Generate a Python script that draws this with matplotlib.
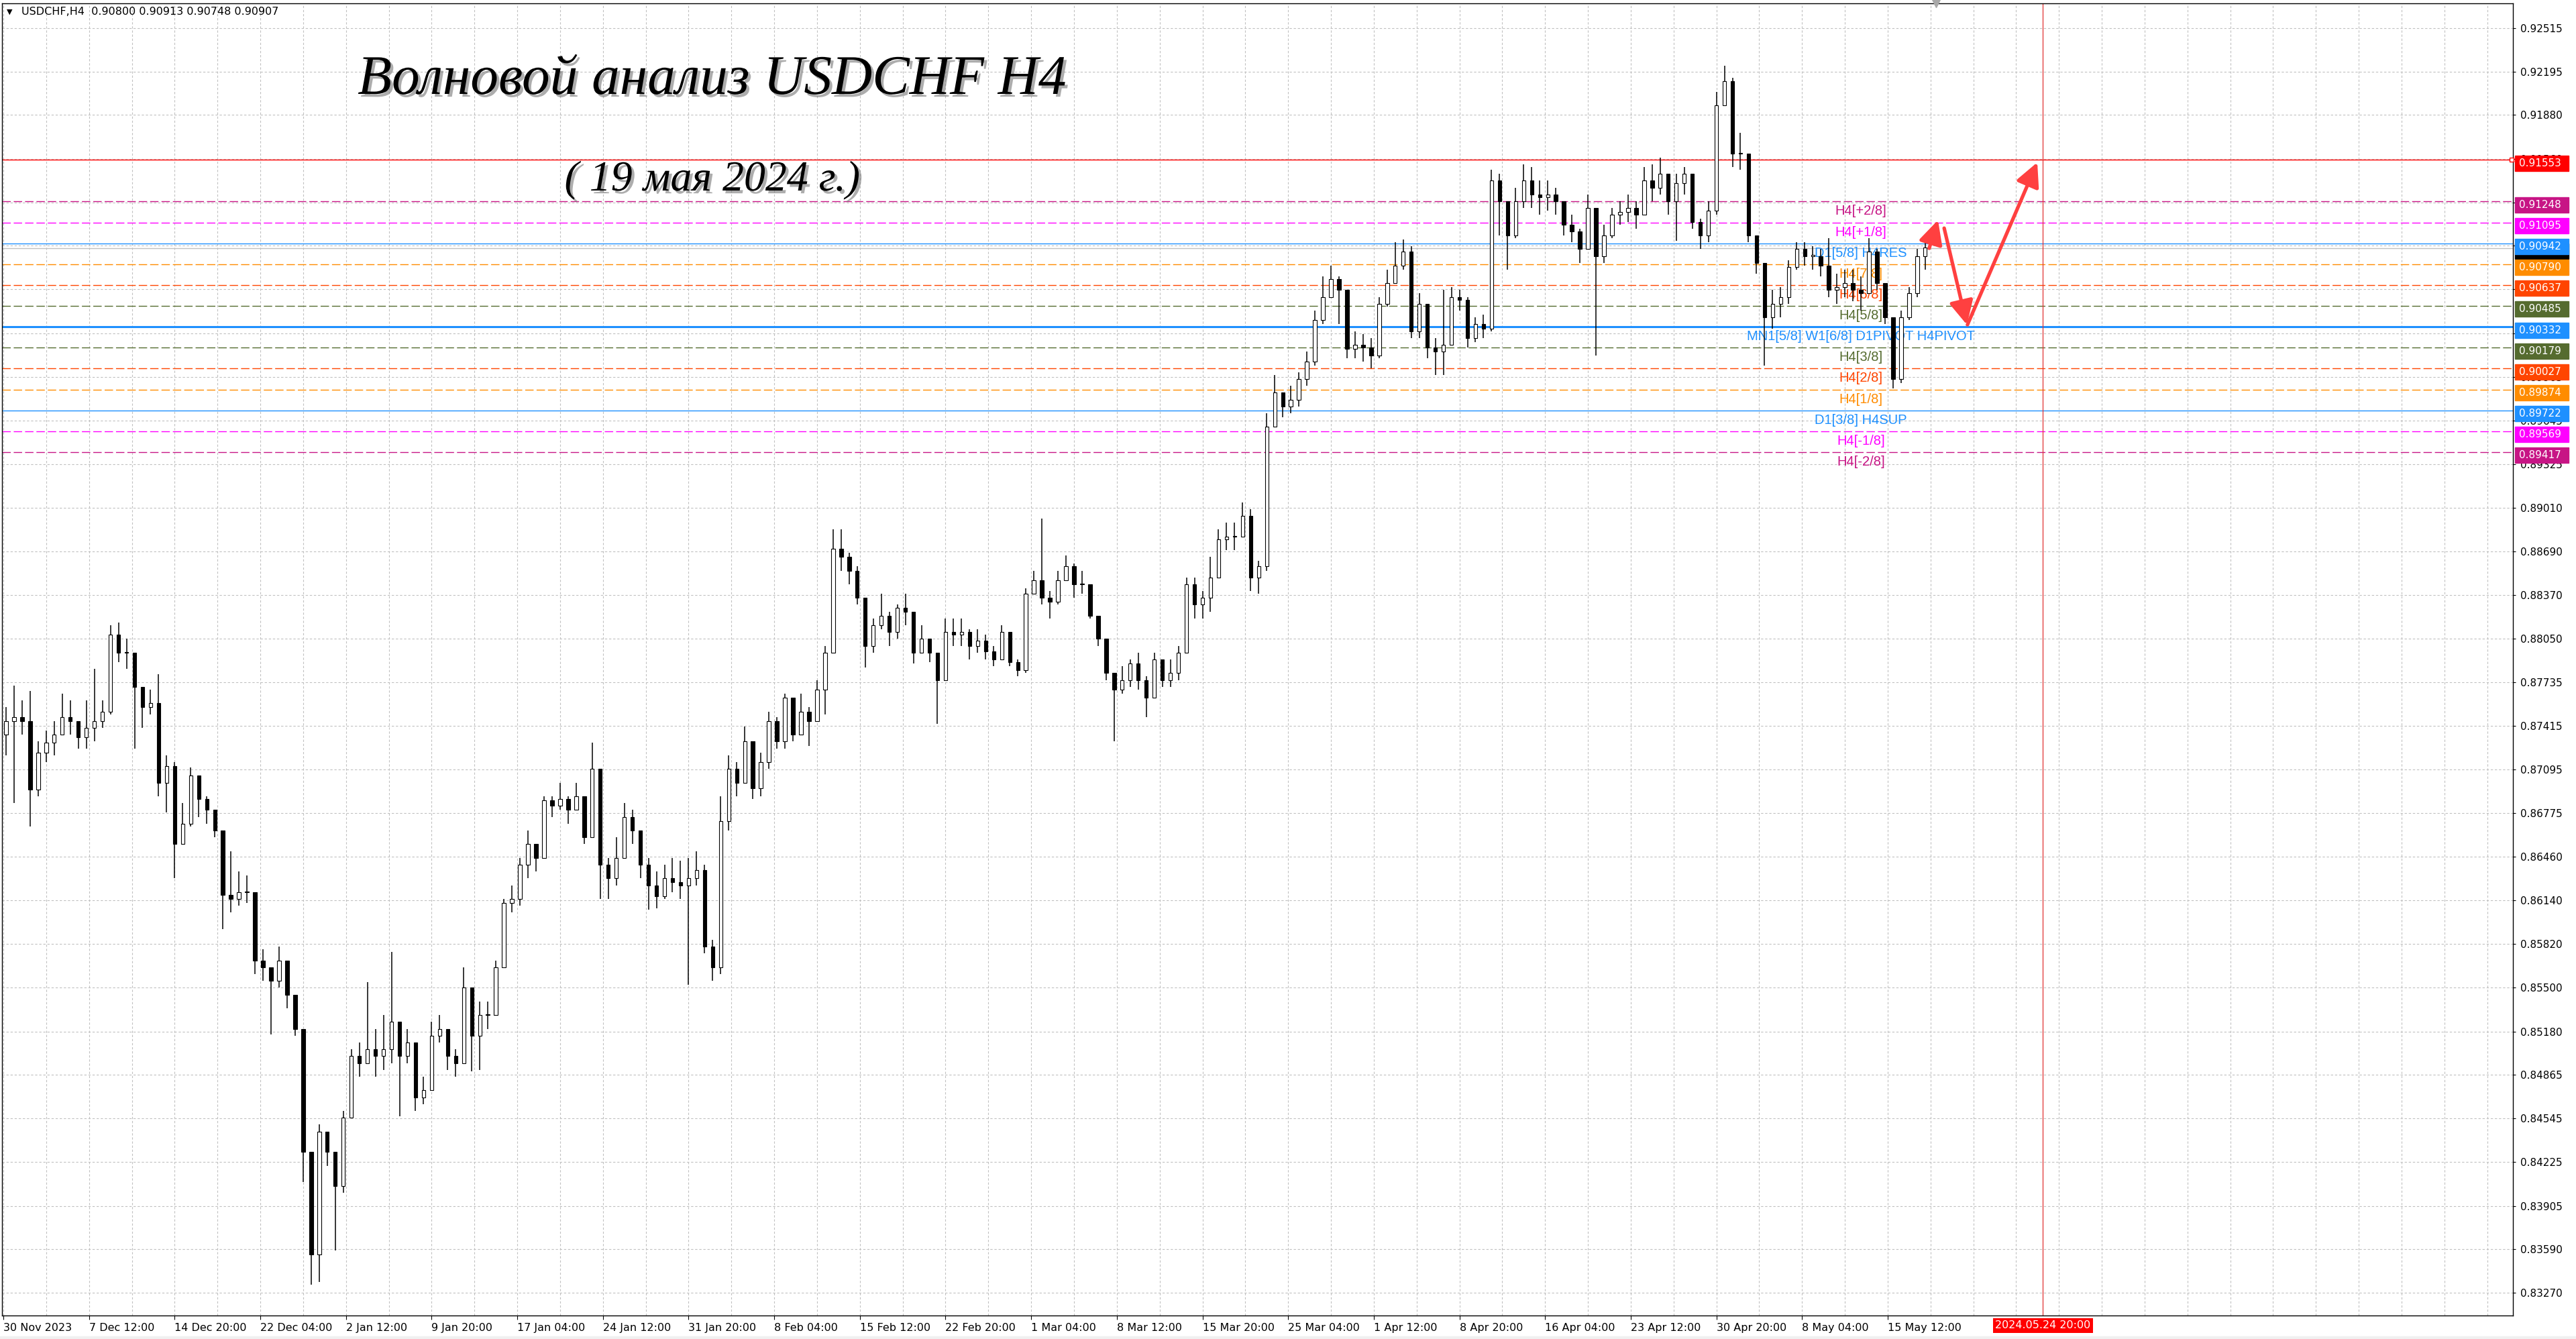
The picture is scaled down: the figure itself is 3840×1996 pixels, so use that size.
import matplotlib
matplotlib.use('Agg')
import matplotlib.pyplot as plt
import matplotlib.patheffects as pe
import matplotlib.transforms as mtransforms
from matplotlib.patches import Rectangle
import numpy as np

plt.rcParams['font.family'] = ['DejaVu Sans']

# --- price data (one candle = 3 H4 bars), in 1e-4 units ---
close_pips = [
    8745, 8748, 8745, 8695, 8722, 8729, 8735, 8748, 8745, 8733,
    8740, 8745, 8752, 8808, 8795, 8795, 8770, 8755, 8758, 8700,
    8712, 8655, 8670, 8705, 8688, 8680, 8665, 8618, 8615, 8620,
    8620, 8570, 8565, 8555, 8570, 8545, 8520, 8430, 8355, 8445,
    8430, 8405, 8455, 8500, 8495, 8505, 8500, 8505, 8525, 8500,
    8510, 8470, 8475, 8515, 8520, 8500, 8495, 8550, 8515, 8530,
    8530, 8565, 8612, 8615, 8640, 8655, 8645, 8687, 8683, 8688,
    8680, 8690, 8660, 8710, 8640, 8630, 8645, 8675, 8665, 8640,
    8625, 8617, 8630, 8627, 8625, 8630, 8636, 8580, 8565, 8672,
    8710, 8700, 8730, 8696, 8715, 8745, 8730, 8762, 8735, 8752,
    8745, 8768, 8795, 8871, 8865, 8855, 8835, 8800, 8815, 8822,
    8810, 8828, 8825, 8795, 8805, 8795, 8775, 8810, 8808, 8810,
    8800, 8804, 8796, 8790, 8810, 8788, 8782, 8838, 8848, 8835,
    8832, 8848, 8858, 8845, 8845, 8822, 8805, 8780, 8768, 8775,
    8787, 8775, 8762, 8790, 8775, 8780, 8795, 8845, 8830, 8835,
    8850, 8878, 8880, 8880, 8895, 8850, 8858, 8960, 8985, 8975,
    8980, 8995, 9008, 9038, 9055, 9068, 9060, 9017, 9020, 9018,
    9012, 9050, 9065, 9078, 9088, 9030, 9050, 9018, 9015, 9020,
    9055, 9053, 9025, 9035, 9032, 9140, 9125, 9100, 9125, 9140,
    9130, 9128, 9130, 9125, 9108, 9103, 9090, 9120, 9085, 9100,
    9115, 9117, 9120, 9115, 9140, 9135, 9145, 9125, 9138, 9145,
    9110, 9100, 9118, 9195, 9213, 9160, 9160, 9100, 9080, 9040,
    9050, 9055, 9077, 9090, 9085, 9085, 9078, 9060, 9062, 9065,
    9060, 9058, 9088, 9065, 9040, 8995, 9040, 9058, 9085, 9091,
]
high_pips = [
    8755, 8771, 8760, 8767, 8730, 8738, 8745, 8765, 8760, 8745,
    8760, 8783, 8760, 8815, 8817, 8805, 8785, 8765, 8768, 8779,
    8720, 8715, 8685, 8711, 8705, 8690, 8680, 8665, 8650, 8635,
    8632, 8620, 8578, 8565, 8580, 8560, 8545, 8515, 8420, 8450,
    8445, 8430, 8460, 8505, 8510, 8554, 8520, 8530, 8576, 8520,
    8520, 8500, 8485, 8525, 8530, 8515, 8505, 8565, 8550, 8540,
    8540, 8570, 8615, 8625, 8645, 8665, 8655, 8690, 8690, 8700,
    8690, 8700, 8688, 8729, 8705, 8645, 8660, 8685, 8680, 8660,
    8645, 8635, 8640, 8645, 8643, 8645, 8650, 8640, 8585, 8690,
    8720, 8715, 8741, 8730, 8722, 8752, 8748, 8765, 8762, 8765,
    8755, 8775, 8800, 8885, 8885, 8868, 8858, 8835, 8820, 8838,
    8825, 8830, 8838, 8825, 8815, 8805, 8795, 8820, 8820, 8820,
    8812, 8812, 8808, 8800, 8815, 8808, 8790, 8842, 8855, 8893,
    8840, 8855, 8866, 8860, 8855, 8845, 8822, 8800, 8780, 8785,
    8790, 8795, 8778, 8795, 8790, 8790, 8800, 8850, 8850, 8840,
    8865, 8885, 8890, 8890, 8905, 8900, 8862, 8970, 8998, 8985,
    8990, 9000, 9015, 9045, 9070, 9078, 9070, 9060, 9030, 9028,
    9025, 9055, 9075, 9095, 9097, 9092, 9058, 9050, 9025, 9060,
    9062, 9060, 9055, 9040, 9042, 9148, 9145, 9125, 9135, 9152,
    9150, 9140, 9140, 9135, 9125, 9115, 9105, 9130, 9120, 9108,
    9120, 9125, 9130, 9125, 9150, 9152, 9157, 9145, 9145, 9150,
    9140, 9112, 9125, 9205, 9224, 9215, 9175, 9128, 9100, 9080,
    9060, 9062, 9082, 9095, 9095, 9092, 9090, 9098, 9072, 9075,
    9075, 9070, 9098, 9090, 9065, 9040, 9045, 9062, 9090, 9100,
]
low_pips = [
    8720, 8685, 8735, 8668, 8690, 8715, 8720, 8735, 8735, 8725,
    8725, 8730, 8740, 8750, 8788, 8783, 8725, 8740, 8750, 8690,
    8678, 8630, 8660, 8668, 8675, 8670, 8660, 8593, 8605, 8610,
    8612, 8560, 8555, 8516, 8550, 8535, 8515, 8408, 8333, 8335,
    8420, 8358, 8400, 8455, 8485, 8495, 8485, 8490, 8495, 8456,
    8495, 8460, 8465, 8475, 8510, 8490, 8485, 8495, 8489, 8490,
    8520, 8530, 8565, 8605, 8610, 8630, 8635, 8645, 8675, 8680,
    8670, 8680, 8655, 8660, 8615, 8615, 8625, 8645, 8655, 8630,
    8607, 8608, 8615, 8620, 8615, 8552, 8625, 8575, 8555, 8560,
    8665, 8690, 8700, 8688, 8690, 8710, 8725, 8725, 8730, 8740,
    8727, 8750, 8750, 8800, 8855, 8845, 8830, 8784, 8795, 8812,
    8800, 8805, 8815, 8787, 8798, 8788, 8743, 8775, 8800, 8800,
    8790, 8795, 8790, 8785, 8790, 8785, 8778, 8780, 8838, 8830,
    8820, 8830, 8848, 8835, 8838, 8820, 8800, 8775, 8730, 8765,
    8770, 8768, 8748, 8762, 8770, 8770, 8775, 8795, 8820, 8820,
    8825, 8865, 8870, 8870, 8880, 8840, 8838, 8855, 8970, 8967,
    8970, 8975, 8990, 9005, 9035, 9055, 9035, 9010, 9010, 9008,
    9003, 9010, 9048, 9070, 9075, 9025, 9025, 9010, 8998, 8998,
    9025, 9045, 9018, 9022, 9025, 9030, 9100, 9075, 9098, 9120,
    9120, 9115, 9118, 9115, 9100, 9095, 9080, 9090, 9012, 9080,
    9098, 9108, 9110, 9105, 9115, 9125, 9130, 9115, 9096, 9130,
    9105, 9090, 9095, 9115, 9195, 9150, 9148, 9095, 9072, 9005,
    9032, 9040, 9050, 9075, 9078, 9075, 9070, 9055, 9050, 9055,
    9052, 9045, 9060, 9060, 9035, 8988, 8992, 9038, 9055, 9075,
]
first_open = 0.8735
bars_per_candle = 3

time_labels = ['30 Nov 2023', '7 Dec 12:00', '14 Dec 20:00', '22 Dec 04:00', '2 Jan 12:00',
               '9 Jan 20:00', '17 Jan 04:00', '24 Jan 12:00', '31 Jan 20:00', '8 Feb 04:00',
               '15 Feb 12:00', '22 Feb 20:00', '1 Mar 04:00', '8 Mar 12:00', '15 Mar 20:00',
               '25 Mar 04:00', '1 Apr 12:00', '8 Apr 20:00', '16 Apr 04:00', '23 Apr 12:00',
               '30 Apr 20:00', '8 May 04:00', '15 May 12:00']
label_step = 32  # bars between time labels

price_ticks = [0.92515, 0.92195, 0.91880, 0.91560, 0.91240, 0.90925, 0.90605, 0.90285,
               0.89965, 0.89645, 0.89325, 0.89010, 0.88690, 0.88370, 0.88050, 0.87735,
               0.87415, 0.87095, 0.86775, 0.86460, 0.86140, 0.85820, 0.85500, 0.85180,
               0.84865, 0.84545, 0.84225, 0.83905, 0.83590, 0.83270]

level_prices = [0.91553, 0.91248, 0.91095, 0.90942, 0.90790, 0.90637, 0.90485,
                0.90332, 0.90179, 0.90027, 0.89874, 0.89722, 0.89569, 0.89417]
level_names = ['', 'H4[+2/8]', 'H4[+1/8]', 'D1[5/8] H4RES', 'H4[7/8]', 'H4[6/8]', 'H4[5/8]',
               'MN1[5/8] W1[6/8] D1PIVOT H4PIVOT', 'H4[3/8]', 'H4[2/8]', 'H4[1/8]',
               'D1[3/8] H4SUP', 'H4[-1/8]', 'H4[-2/8]']
level_colors = ['#FF0000', '#C71585', '#FF00FF', '#1E90FF', '#FF8C00', '#FF4500', '#556B2F',
                '#1E90FF', '#556B2F', '#FF4500', '#FF8C00', '#1E90FF', '#FF00FF', '#C71585']
level_dashed = [False, True, True, False, True, True, True,
                False, True, True, True, False, True, True]
level_widths = [1.0, 1.0, 1.0, 1.0, 1.0, 1.0, 1.0, 2.2, 1.0, 1.0, 1.0, 1.0, 1.0, 1.0]

bid_price = 0.90907
header = 'USDCHF,H4  0.90800 0.90913 0.90748 0.90907'

forecast_bars = [719.5, 722.8, 725.1, 733.6, 733.8, 759.9]
forecast_prices = [0.90906, 0.91112, 0.91053, 0.90347, 0.90347, 0.91534]

future_bar = 762
future_label = '2024.05.24 20:00'
label_bar = 694

title = 'Волновой анализ USDCHF H4'
subtitle = '( 19 мая 2024 г.)'

# --- figure ---
W, H = 3840, 1996
fig = plt.figure(figsize=(W / 100, H / 100), dpi=100)
left, right, top, bottom = 3, 3746, 5, 1961
ax = fig.add_axes([left / W, 1 - bottom / H, (right - left) / W, (bottom - top) / H])
x0, x1 = -0.5, 937.6
y0, y1 = 0.83104, 0.926965
ax.set_xlim(x0, x1)
ax.set_ylim(y0, y1)
for s in ax.spines.values():
    s.set_color('black')
    s.set_linewidth(1.0)
px = (y1 - y0) / (bottom - top)  # price per pixel

# grid
grid_kw = dict(color='#C0C0C0', lw=0.8, ls=(0, (3, 2.5)), zorder=0)
for b in range(0, int(x1), 16):
    ax.axvline(b, **grid_kw)
for p in price_ticks:
    ax.axhline(p, **grid_kw)

# levels
for p, c, d, w in zip(level_prices, level_colors, level_dashed, level_widths):
    ls = (0, (9, 3.2)) if d else '-'
    ax.axhline(p, color=c, lw=w, ls=ls, zorder=1)
ax.axhline(bid_price, color='#C0C0C0', lw=1.0, zorder=1)
ax.axvline(future_bar, color='#E03030', lw=0.9, zorder=1)

for p, n, c in zip(level_prices, level_names, level_colors):
    if n:
        ax.text(label_bar, p - 5 * px, n, color=c, ha='center', va='top',
                fontsize=14.5, family='Liberation Sans', zorder=2)

# candles
close = np.array(close_pips) / 10000
high = np.array(high_pips) / 10000
low = np.array(low_pips) / 10000
opn = np.concatenate([[first_open], close[:-1]])
high = np.maximum(high, np.maximum(opn, close))
low = np.minimum(low, np.minimum(opn, close))
xs = np.arange(len(close)) * bars_per_candle + 1
ax.vlines(xs, low, high, color='black', lw=1.1, zorder=3)
body = close - opn
body = np.where(np.abs(body) < 0.00005, np.where(body >= 0, 0.00005, -0.00005), body)
faces = ['white' if c >= o else 'black' for o, c in zip(opn, close)]
ax.bar(xs, body, bottom=opn, width=1.35, color=faces, edgecolor='black', lw=0.8, zorder=4)

# forecast arrows
red = '#FF4040'
for i in (0, 2, 4):
    ax.annotate('', xy=(forecast_bars[i + 1], forecast_prices[i + 1]),
                xytext=(forecast_bars[i], forecast_prices[i]),
                arrowprops=dict(arrowstyle='-|>,head_length=0.9,head_width=0.45',
                                color=red, lw=3.8, mutation_scale=24,
                                shrinkA=0, shrinkB=0), zorder=6)

# axes ticks
ax.yaxis.tick_right()
ax.set_yticks(price_ticks)
ax.set_yticklabels([f'{p:.5f}' for p in price_ticks])
ax.tick_params(axis='y', direction='out', length=3, width=0.8, pad=5, labelsize=11)
ax.set_xticks([label_step * k for k in range(len(time_labels))])
ax.set_xticklabels(time_labels)
for t in ax.get_xticklabels():
    t.set_ha('left')
ax.tick_params(axis='x', direction='out', length=4, width=0.8, pad=4, labelsize=11.5)

# right-side level boxes
tr = mtransforms.blended_transform_factory(ax.transAxes, ax.transData)
bw = 80 / (right - left)
bh = 23 * px
bx = 1 + 3 / (right - left)
shift = 5 * px
ax.add_patch(Rectangle((bx, bid_price - shift - bh / 2), bw, bh, transform=tr,
                       color='black', clip_on=False, zorder=7))
for p, c in zip(level_prices, level_colors):
    ax.add_patch(Rectangle((bx, p - shift - bh / 2), bw, bh, transform=tr, color=c,
                           clip_on=False, zorder=8))
    ax.text(bx + 6 / (right - left), p - shift, f'{p:.5f}', transform=tr, color='white',
            va='center', ha='left', fontsize=11, zorder=9, clip_on=False)
ax.plot([x1 - 0.6], [level_prices[0]], marker='s', ms=4, mfc='white', mec='red',
        mew=1, clip_on=False, zorder=7)
ax.plot([722], [y1], marker='v', ms=9, color='#A8A8A8', clip_on=False, zorder=7)

# future time label
trx = mtransforms.blended_transform_factory(ax.transData, ax.transAxes)
ax.text(future_bar, -15 / (bottom - top), future_label, transform=trx, color='white',
        ha='center', va='center', fontsize=11.5, clip_on=False,
        bbox=dict(facecolor='red', edgecolor='none', pad=2.5))

# header + titles
fig.text(10 / W, 1 - 18 / H, '▼', fontsize=8, va='center', ha='left')
fig.text(32 / W, 1 - 18 / H, header, fontsize=11.5, va='center', ha='left')
shadow = [pe.withSimplePatchShadow(offset=(3, -3), shadow_rgbFace='#777777', alpha=0.6)]
fig.text(1062 / W, 1 - 140 / H, title, fontsize=60, family='Liberation Serif',
         style='italic', ha='center', va='baseline', path_effects=shadow)
fig.text(1062 / W, 1 - 284 / H, subtitle, fontsize=46, family='Liberation Serif',
         style='italic', ha='center', va='baseline', path_effects=shadow)

fig.patches.append(Rectangle((0, 0), 1, 4 / H, transform=fig.transFigure,
                             color='#F0F0F0', zorder=0))

fig.savefig('out.png', dpi=100, facecolor='white')
